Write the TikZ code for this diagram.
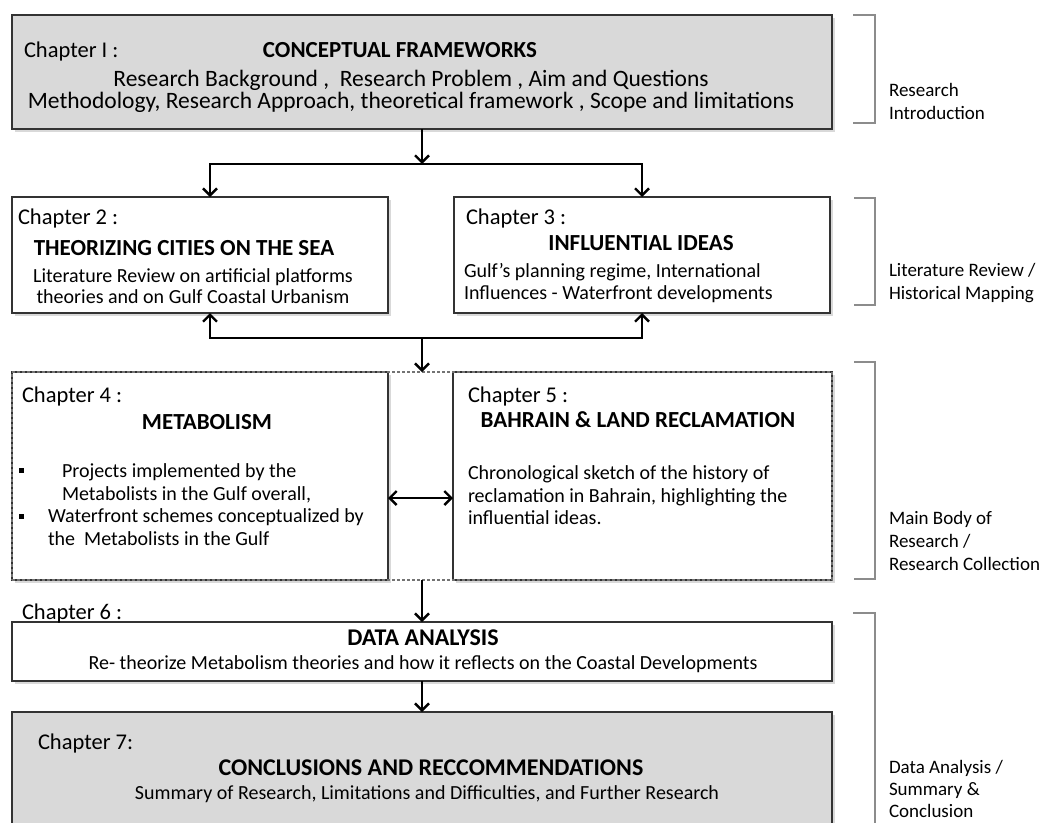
\documentclass[tikz,border=0pt]{standalone}
\usepackage{fontspec}
\setmainfont{Carlito}
\usepackage{tikz}
\usetikzlibrary{arrows.meta,shadows,fit,positioning}
\definecolor{boxGray}{HTML}{D9D9D9}
\colorlet{edgeGray}{black!80}
\colorlet{braceGray}{black!45}
\newcommand{\bodyfont}{\fontsize{20}{22.5}\selectfont}
\newcommand{\headfont}{\fontsize{23}{26}\selectfont\bfseries}
\newcommand{\chapfont}{\fontsize{22.5}{26}\selectfont}
\newcommand{\sidefont}{\fontsize{19}{23}\selectfont}
\begin{document}
\begin{tikzpicture}[x=1pt, y=-1pt,
    every node/.style={inner sep=0pt, outer sep=0pt, font=\bodyfont},
    chapbox/.style={draw=edgeGray, line width=1.4pt, fill=white, anchor=north west,
        drop shadow={shadow xshift=2.5pt, shadow yshift=-2.5pt, opacity=0.3}},
    graybox/.style={chapbox, fill=boxGray},
    chap/.style={font=\chapfont, anchor=base west},
    head/.style={font=\headfont, anchor=base},
    flow/.style={line width=2.4pt, -{Straight Barb[length=7pt, width=14pt]}},
    bar/.style={line width=2.4pt, line cap=rect},
    brace/.style={draw=braceGray, line width=1.2pt},
    side/.style={font=\sidefont, align=left, anchor=north west}]
    \useasboundingbox (0,0) rectangle (1044,822);
    % chapter boxes
    \node[graybox, minimum width=820pt, minimum height=114pt] (ch1) at (12,15) {};
    \node[chapbox, minimum width=376pt, minimum height=116pt] (ch2) at (12,197) {};
    \node[chapbox, minimum width=376pt, minimum height=116pt] (ch3) at (454,197) {};
    \node[chapbox, minimum width=376pt, minimum height=208pt] (ch4) at (12,372) {};
    \node[chapbox, minimum width=379pt, minimum height=208pt] (ch5) at (453,372) {};
    \node[fit=(ch4)(ch5), draw=black!55, densely dashed, line width=1.2pt] (mainbody) {};
    \node[chapbox, minimum width=820pt, minimum height=59pt] (ch6) at (12,622) {};
    \node[graybox, minimum width=820pt, minimum height=130pt] (ch7) at (12,712) {};
    % texts
    \node[chap] (c1) at (24,57) {Chapter I :};
    \node[head] (t1) at (400,57) {CONCEPTUAL FRAMEWORKS};
    \node[align=center, anchor=north, font=\fontsize{23.5}{22.5}\selectfont] (b1) at (411,70)
        {Research Background ,\ \ Research Problem , Aim and Questions\\
         Methodology, Research Approach, theoretical framework , Scope and limitations};
    \node[chap] (c2) at (18,224) {Chapter 2 :};
    \node[head] (t2) at (184,255) {THEORIZING CITIES ON THE SEA};
    \node[align=center, anchor=north, font=\fontsize{20}{20.5}\selectfont] (b2) at (193,269)
        {Literature Review on artificial platforms\\theories and on Gulf Coastal Urbanism};
    \node[chap] (c3) at (466,224) {Chapter 3 :};
    \node[head] (t3) at (641,250) {INFLUENTIAL IDEAS};
    \node[align=left, anchor=north west] (b3) at (464,263)
        {Gulf’s planning regime, International\\Influences - Waterfront developments};
    \node[chap] (c4) at (22,402) {Chapter 4 :};
    \node[head] (t4) at (207,429) {METABOLISM};
    \node[fill=black, minimum size=5pt] (dot1) at (21,470) {};
    \node[align=left, anchor=north west] (b4a) at (62,464)
        {Projects implemented by the\\Metabolists in the Gulf overall,};
    \node[fill=black, minimum size=5pt] (dot2) at (21,516) {};
    \node[align=left, anchor=north west] (b4b) at (48,509)
        {Waterfront schemes conceptualized by\\the\ \ Metabolists in the Gulf};
    \node[chap] (c5) at (468,402) {Chapter 5 :};
    \node[head] (t5) at (638,427) {BAHRAIN \& LAND RECLAMATION};
    \node[align=left, anchor=north west] (b5) at (468,466)
        {Chronological sketch of the history of\\reclamation in Bahrain, highlighting the\\influential ideas.};
    \node[chap] (c6) at (22,619) {Chapter 6 :};
    \node[head, font=\fontsize{24}{26}\selectfont\bfseries] (t6) at (423,645) {DATA ANALYSIS};
    \node[anchor=base] (b6) at (423,669)
        {Re- theorize Metabolism theories and how it reflects on the Coastal Developments};
    \node[chap] (c7) at (38,749) {Chapter 7:};
    \node[head, font=\fontsize{24}{26}\selectfont\bfseries] (t7) at (431,775) {CONCLUSIONS AND RECCOMMENDATIONS};
    \node[anchor=base] (b7) at (427,799)
        {Summary of Research, Limitations and Difficulties, and Further Research};
    % connectors
    \coordinate (forkL) at (210,164);
    \coordinate (forkR) at (642,164);
    \coordinate (joinL) at (210,338);
    \coordinate (joinR) at (642,338);
    \coordinate (pair) at (420,498);
    \draw[flow] (ch1.south) -- (ch1.south |- forkL);
    \draw[bar] (forkL) -- (forkR);
    \draw[flow] (forkL) -- (forkL |- ch2.north);
    \draw[flow] (forkR) -- (forkR |- ch3.north);
    \draw[bar] (joinL) -- (joinR);
    \draw[flow] (joinL) -- (joinL |- ch2.south);
    \draw[flow] (joinR) -- (joinR |- ch3.south);
    \draw[flow] (ch1.south |- joinL) -- (ch1.south |- mainbody.north);
    \draw[line width=2.4pt, {Straight Barb[length=7pt, width=14pt]}-{Straight Barb[length=7pt, width=14pt]}]
        (ch4.east |- pair) -- (ch5.west |- pair);
    \draw[flow] (ch1.south |- mainbody.south) -- (ch1.south |- ch6.north);
    \draw[flow] (ch6.south) -- (ch7.north);
    % side brackets
    \draw[brace] (853,15) -- (875,15) -- (875,123) -- (853,123);
    \draw[brace] (854,198) -- (875,198) -- (875,305) -- (854,305);
    \draw[brace] (854,362) -- (875,362) -- (875,579) -- (854,579);
    \draw[brace] (853,613) -- (875,613) -- (875,830);
    \node[side] (lbIntro) at (889,83) {Research\\Introduction};
    \node[side] (lbLit) at (889,263) {Literature Review /\\Historical Mapping};
    \node[side] (lbMain) at (889,511) {Main Body of\\Research /\\Research Collection};
    \node[side, font=\fontsize{19}{22}\selectfont] (lbData) at (889,760) {Data Analysis /\\Summary \&\\Conclusion};
\end{tikzpicture}
\end{document}
